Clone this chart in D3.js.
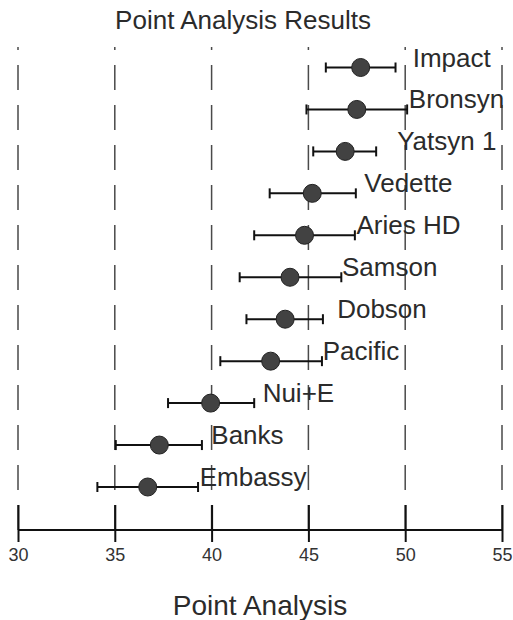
<!DOCTYPE html>
<html>
<head>
<meta charset="utf-8">
<script src="https://cdn.jsdelivr.net/npm/d3@7"></script>
<style>
  body { margin: 0; background: #fff; }
  text { font-family: "Liberation Sans", Arial, sans-serif; }
</style>
</head>
<body>
<div id="chart"></div>
<script>
// data
var varieties = ["Impact", "Bronsyn", "Yatsyn 1", "Vedette", "Aries HD", "Samson", "Dobson", "Pacific", "Nui+E", "Banks", "Embassy"];
var means = [47.7, 47.5, 46.9, 45.2, 44.8, 44.05, 43.8, 43.05, 39.95, 37.3, 36.7];
var lows = [45.9, 44.9, 45.25, 43.0, 42.2, 41.45, 41.8, 40.45, 37.75, 35.05, 34.1];
var highs = [49.5, 50.1, 48.5, 47.45, 47.4, 46.7, 45.75, 45.7, 42.2, 39.5, 39.3];
var xTicks = [30, 35, 40, 45, 50, 55];

var data = varieties.map(function (v, i) {
    return {name: v, mean: means[i], lo: lows[i], hi: highs[i]};
});

var W = 513, H = 620;
var svg = d3.select("#chart").append("svg")
    .attr("width", W)
    .attr("height", H);

var x = d3.scaleLinear().domain([30, 55]).range([18, 502]);
var y = d3.scalePoint().domain(varieties).range([67.5, 487]);
var axisY = 530, gridTop = 47;

// title
svg.append("text")
    .attr("x", 243).attr("y", 29)
    .attr("text-anchor", "middle")
    .style("font-size", "26px")
    .style("fill", "#2b2b2b")
    .text("Point Analysis Results");

// dashed gridlines, dashes start at the axis
svg.append("g").selectAll("line")
    .data(xTicks)
    .enter().append("line")
    .attr("x1", d => x(d)).attr("x2", d => x(d))
    .attr("y1", axisY).attr("y2", gridTop)
    .attr("stroke", "#4a4a4a")
    .attr("stroke-width", 1.5)
    .attr("stroke-dasharray", "25,15");

// x axis
var xAxis = d3.axisBottom(x).tickValues(xTicks).tickSize(12).tickPadding(6);
var gx = svg.append("g")
    .attr("transform", `translate(0, ${axisY})`)
    .call(xAxis);
gx.select(".domain").attr("stroke", "#111").attr("stroke-width", 2).attr("d", `M${x(30)},0H${x(55)}`);
gx.selectAll(".tick line").attr("stroke", "#111").attr("stroke-width", 2).attr("y1", -25);
gx.selectAll(".tick text")
    .style("font-size", "18px")
    .style("font-family", "Liberation Sans, Arial, sans-serif")
    .style("fill", "#333");

// axis label
svg.append("text")
    .attr("x", 260).attr("y", 615)
    .attr("text-anchor", "middle")
    .style("font-size", "28px")
    .style("fill", "#2b2b2b")
    .text("Point Analysis");

// error bars
var bars = svg.append("g").selectAll("g")
    .data(data)
    .enter().append("g")
    .attr("stroke", "#111")
    .attr("stroke-width", 2);

bars.append("line")
    .attr("x1", d => x(d.lo)).attr("x2", d => x(d.hi))
    .attr("y1", d => y(d.name)).attr("y2", d => y(d.name));
bars.append("line")
    .attr("x1", d => x(d.lo)).attr("x2", d => x(d.lo))
    .attr("y1", d => y(d.name) - 5).attr("y2", d => y(d.name) + 5);
bars.append("line")
    .attr("x1", d => x(d.hi)).attr("x2", d => x(d.hi))
    .attr("y1", d => y(d.name) - 5).attr("y2", d => y(d.name) + 5);

// points
svg.append("g").selectAll("circle")
    .data(data)
    .enter().append("circle")
    .attr("cx", d => x(d.mean))
    .attr("cy", d => y(d.name))
    .attr("r", 9)
    .attr("fill", "#424242")
    .attr("stroke", "#222")
    .attr("stroke-width", 1);

// labels next to points
svg.append("g").selectAll("text")
    .data(data)
    .enter().append("text")
    .attr("x", d => x(d.mean) + 52)
    .attr("y", d => y(d.name) - 1)
    .style("font-size", "26px")
    .style("fill", "#2b2b2b")
    .text(d => d.name);
</script>
</body>
</html>
